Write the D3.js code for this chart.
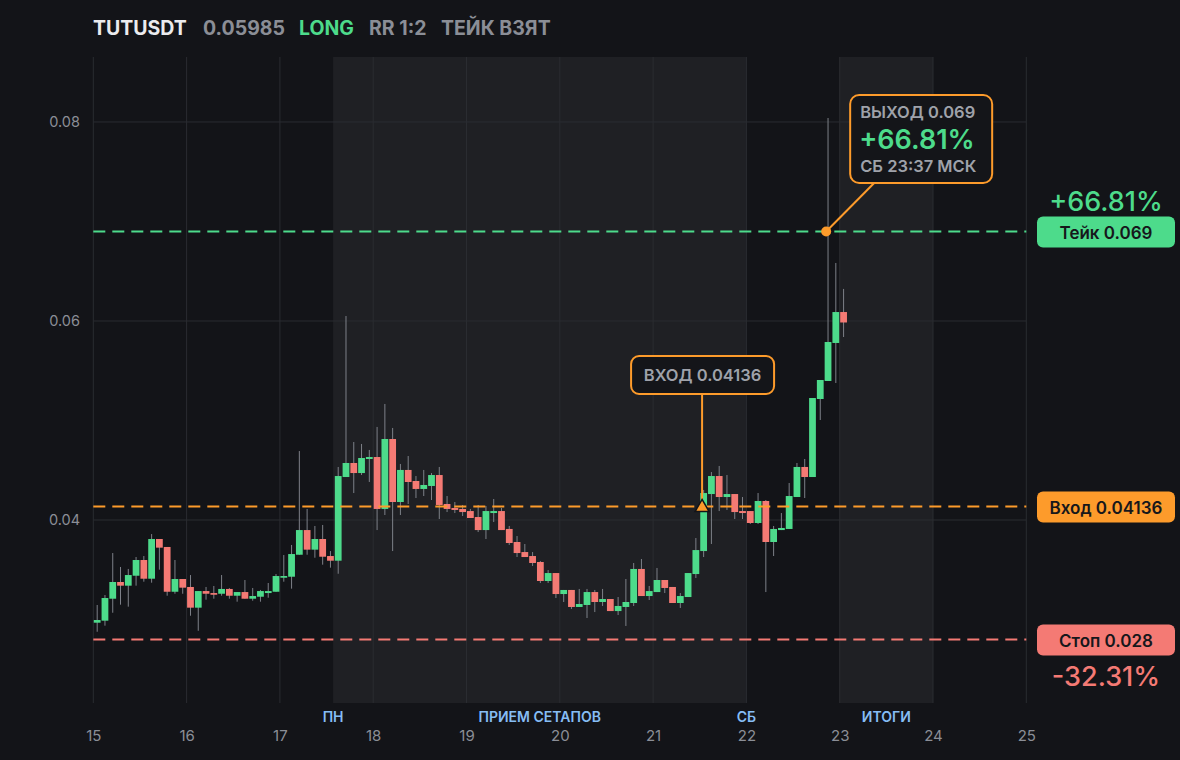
<!DOCTYPE html>
<html>
<head>
<meta charset="utf-8">
<script src="https://cdn.jsdelivr.net/npm/d3@7"></script>
<style>
  html, body { margin: 0; background: #131418; }
  svg { display: block; font-family: Inter, "Noto Sans", sans-serif; }
</style>
</head>
<body>
<svg id="chart"></svg>
<script>
// 2h candles, TUTUSDT, starting on the 15th
var opens = [0.02968, 0.02988, 0.03209, 0.03377, 0.03340, 0.03440, 0.03598, 0.03410, 0.03809, 0.03729,
  0.03279, 0.03407, 0.03327, 0.03119, 0.03286, 0.03266, 0.03259, 0.03307, 0.03239, 0.03276,
  0.03209, 0.03229, 0.03266, 0.03279, 0.03420, 0.03430, 0.03651, 0.03899, 0.03702, 0.03809,
  0.03638, 0.03591, 0.04432, 0.04573, 0.04472, 0.04613, 0.04633, 0.04111, 0.04814, 0.04181,
  0.04503, 0.04392, 0.04312, 0.04342, 0.04452, 0.04161, 0.04121, 0.04111, 0.04090, 0.04030,
  0.03899, 0.04070, 0.04090, 0.03910, 0.03779, 0.03678, 0.03638, 0.03578, 0.03387, 0.03467,
  0.03256, 0.03297, 0.03126, 0.03146, 0.03276, 0.03176, 0.03206, 0.03085, 0.03126, 0.03166,
  0.03508, 0.03236, 0.03276, 0.03397, 0.03327, 0.03166, 0.03226, 0.03457, 0.03688, 0.04261,
  0.04442, 0.04231, 0.04261, 0.04090, 0.04090, 0.03970, 0.04191, 0.03779, 0.03899, 0.03910,
  0.04231, 0.04533, 0.04432, 0.05216, 0.05397, 0.05779, 0.06090];
var highs = [0.03146, 0.03246, 0.03668, 0.03528, 0.03508, 0.03628, 0.03638, 0.03859, 0.03809, 0.03729,
  0.03598, 0.03407, 0.03447, 0.03286, 0.03327, 0.03337, 0.03447, 0.03317, 0.03276, 0.03397,
  0.03317, 0.03297, 0.03367, 0.03457, 0.03648, 0.03749, 0.04693, 0.04111, 0.03940, 0.03950,
  0.03688, 0.04533, 0.06050, 0.04784, 0.04764, 0.04704, 0.04935, 0.05166, 0.04925, 0.04563,
  0.04643, 0.04442, 0.04503, 0.04472, 0.04533, 0.04241, 0.04181, 0.04151, 0.04111, 0.04151,
  0.04141, 0.04211, 0.04121, 0.03940, 0.03839, 0.03759, 0.03678, 0.03588, 0.03497, 0.03467,
  0.03297, 0.03297, 0.03307, 0.03307, 0.03297, 0.03307, 0.03206, 0.03226, 0.03407, 0.03568,
  0.03608, 0.03337, 0.03518, 0.03397, 0.03327, 0.03266, 0.03467, 0.03819, 0.04302, 0.04482,
  0.04543, 0.04452, 0.04261, 0.04231, 0.04090, 0.04271, 0.04201, 0.03940, 0.04070, 0.04372,
  0.04573, 0.04613, 0.05226, 0.05407, 0.08040, 0.06583, 0.06322];
var lows = [0.02877, 0.02938, 0.03068, 0.03149, 0.03129, 0.03340, 0.03380, 0.03370, 0.03501, 0.03239,
  0.03259, 0.03259, 0.03038, 0.02887, 0.03199, 0.03209, 0.03239, 0.03209, 0.03179, 0.03209,
  0.03189, 0.03179, 0.03219, 0.03279, 0.03380, 0.03310, 0.03651, 0.03651, 0.03621, 0.03551,
  0.03521, 0.03460, 0.04432, 0.04271, 0.04452, 0.04382, 0.03899, 0.04050, 0.03688, 0.04050,
  0.04161, 0.04221, 0.04241, 0.04201, 0.04010, 0.04080, 0.04070, 0.04040, 0.04020, 0.03879,
  0.03809, 0.03980, 0.03899, 0.03749, 0.03628, 0.03628, 0.03538, 0.03367, 0.03367, 0.03216,
  0.03176, 0.03106, 0.03126, 0.03015, 0.03075, 0.03136, 0.03085, 0.03045, 0.02935, 0.03136,
  0.03236, 0.03196, 0.03276, 0.03266, 0.03166, 0.03116, 0.03226, 0.03417, 0.03628, 0.03759,
  0.04090, 0.04101, 0.04010, 0.04010, 0.03960, 0.03960, 0.03276, 0.03638, 0.03899, 0.03910,
  0.04231, 0.04221, 0.04432, 0.05005, 0.05397, 0.05377, 0.05839];
var closes = [0.02995, 0.03216, 0.03377, 0.03340, 0.03447, 0.03598, 0.03410, 0.03809, 0.03722, 0.03279,
  0.03407, 0.03320, 0.03119, 0.03286, 0.03259, 0.03249, 0.03307, 0.03239, 0.03276, 0.03209,
  0.03236, 0.03286, 0.03286, 0.03437, 0.03437, 0.03658, 0.03899, 0.03702, 0.03809, 0.03631,
  0.03591, 0.04442, 0.04573, 0.04472, 0.04623, 0.04633, 0.04111, 0.04814, 0.04181, 0.04503,
  0.04382, 0.04312, 0.04352, 0.04452, 0.04151, 0.04111, 0.04101, 0.04080, 0.04020, 0.03899,
  0.04090, 0.04090, 0.03899, 0.03769, 0.03668, 0.03628, 0.03568, 0.03387, 0.03467, 0.03256,
  0.03297, 0.03126, 0.03156, 0.03276, 0.03176, 0.03206, 0.03085, 0.03136, 0.03176, 0.03508,
  0.03236, 0.03286, 0.03397, 0.03317, 0.03166, 0.03236, 0.03467, 0.03698, 0.04271, 0.04442,
  0.04231, 0.04261, 0.04080, 0.04070, 0.03970, 0.04191, 0.03779, 0.03910, 0.03920, 0.04241,
  0.04533, 0.04432, 0.05226, 0.05407, 0.05789, 0.06090, 0.05985];

var startDay = 15, candlesPerDay = 12;
var dayTicks = [15, 16, 17, 18, 19, 20, 21, 22, 23, 24, 25];
var priceTicks = [0.04, 0.06, 0.08];
var shadeFrom = [17.57, 23], shadeTo = [22, 24];
var sessionNames = ["ПН", "ПРИЕМ СЕТАПОВ", "СБ", "ИТОГИ"];
var sessionAt = [17.57, 19.785, 22, 23.5];

var symbol = "TUTUSDT", lastPrice = "0.05985", side = "LONG", rr = "RR 1:2", status = "ТЕЙК ВЗЯТ";
var entryPrice = 0.04136, takePrice = 0.069, stopPrice = 0.028;
var entryTime = 21.525, exitTime = 22.855;
var takePct = "+66.81%", stopPct = "-32.31%", exitWhen = "СБ 23:37 МСК";

var W = 1180, H = 760;
var green = "#4ddb8b", red = "#f47a74", orange = "#fd9b2b", grey = "#8b8e96";

var svg = d3.select("#chart").attr("width", W).attr("height", H);
svg.append("rect").attr("width", W).attr("height", H).attr("fill", "#131418");

var x = d3.scaleLinear().domain([15, 25]).range([93.3, 1026.3]);
var y = d3.scaleLinear().domain([0.02161, 0.08653]).range([703, 57]);

// shaded sessions
svg.selectAll(".shade").data(shadeFrom).enter().append("rect")
    .attr("x", (d) => x(d))
    .attr("width", (d, i) => x(shadeTo[i]) - x(d))
    .attr("y", 57).attr("height", 646)
    .attr("fill", "#1f2024");

// grid
svg.selectAll(".vgrid").data(dayTicks).enter().append("line")
    .attr("x1", (d) => x(d)).attr("x2", (d) => x(d))
    .attr("y1", 57).attr("y2", 703)
    .attr("stroke", "#2a2c31");
svg.selectAll(".hgrid").data(priceTicks).enter().append("line")
    .attr("x1", x(15)).attr("x2", x(25))
    .attr("y1", (d) => y(d)).attr("y2", (d) => y(d))
    .attr("stroke", "#2a2c31");

// axes
var xAxis = svg.append("g").attr("transform", "translate(0,726)")
    .call(d3.axisBottom(x).tickValues(dayTicks).tickSize(0).tickPadding(0).tickFormat(d3.format("d")));
xAxis.select(".domain").remove();
xAxis.selectAll("text").attr("fill", grey).attr("font-size", 15).attr("font-family", "Inter").attr("dy", "1em");

var yAxis = svg.append("g").attr("transform", "translate(93,0)")
    .call(d3.axisLeft(y).tickValues(priceTicks).tickSize(0).tickPadding(13).tickFormat(d3.format(".2f")));
yAxis.select(".domain").remove();
yAxis.selectAll("text").attr("fill", grey).attr("font-size", 14.5).attr("font-family", "Inter");

// session labels
svg.selectAll(".sess").data(sessionNames).enter().append("text")
    .attr("x", (d, i) => x(sessionAt[i])).attr("y", 722)
    .attr("text-anchor", "middle")
    .attr("fill", "#86bdf5").attr("font-size", 14).attr("font-weight", 600)
    .text((d) => d);

// candles
var idx = d3.range(opens.length);
var tOf = (i) => startDay + (i + 0.5) / candlesPerDay;
var bw = (x(1 / candlesPerDay) - x(0)) - 1;

svg.selectAll(".wick").data(idx).enter().append("line")
    .attr("x1", (i) => x(tOf(i))).attr("x2", (i) => x(tOf(i)))
    .attr("y1", (i) => y(highs[i])).attr("y2", (i) => y(lows[i]))
    .attr("stroke", "#7d8088").attr("stroke-width", 1);

svg.selectAll(".body").data(idx).enter().append("rect")
    .attr("x", (i) => x(tOf(i)) - bw / 2)
    .attr("width", bw)
    .attr("y", (i) => y(Math.max(opens[i], closes[i])))
    .attr("height", (i) => Math.max(1.5, Math.abs(y(opens[i]) - y(closes[i]))))
    .attr("fill", (i) => closes[i] >= opens[i] ? green : red);

// level lines
var levels = [takePrice, entryPrice, stopPrice];
var levelColors = [green, orange, red];
svg.selectAll(".level").data(levels).enter().append("line")
    .attr("x1", x(15)).attr("x2", x(25))
    .attr("y1", (d) => y(d)).attr("y2", (d) => y(d))
    .attr("stroke", (d, i) => levelColors[i])
    .attr("stroke-width", 2)
    .attr("stroke-dasharray", "12,7");

// entry marker
var ex = x(entryTime), ey = y(entryPrice);
svg.append("line").attr("x1", ex).attr("x2", ex).attr("y1", 394).attr("y2", ey - 6)
    .attr("stroke", orange).attr("stroke-width", 2);
svg.append("path").attr("d", d3.symbol(d3.symbolTriangle).size(85)())
    .attr("transform", "translate(" + ex + "," + (ey + 1) + ")")
    .attr("fill", orange).attr("stroke", "#131418").attr("stroke-width", 1.5);
svg.append("rect").attr("x", ex - 71).attr("y", 356).attr("width", 143).attr("height", 38)
    .attr("rx", 8).attr("fill", "#141519").attr("stroke", orange).attr("stroke-width", 2);
svg.append("text").attr("x", ex + 0.5).attr("y", 381).attr("text-anchor", "middle")
    .attr("fill", "#9fa2aa").attr("font-size", 16.5).attr("font-weight", 600)
    .text("ВХОД " + entryPrice);

// exit marker
var xx = x(exitTime), xy = y(takePrice);
svg.append("line").attr("x1", xx).attr("y1", xy).attr("x2", xx + 48).attr("y2", 183)
    .attr("stroke", orange).attr("stroke-width", 2);
svg.append("rect").attr("x", xx + 24).attr("y", 95).attr("width", 142).attr("height", 88)
    .attr("rx", 9).attr("fill", "#141519").attr("stroke", orange).attr("stroke-width", 2);
svg.append("circle").attr("cx", xx).attr("cy", xy).attr("r", 5).attr("fill", orange);
svg.append("text").attr("x", xx + 34).attr("y", 118)
    .attr("fill", "#9fa2aa").attr("font-size", 16.5).attr("font-weight", 600)
    .text("ВЫХОД " + takePrice);
svg.append("text").attr("x", xx + 33).attr("y", 149)
    .attr("fill", green).attr("font-size", 27).attr("font-weight", 600)
    .text(takePct);
svg.append("text").attr("x", xx + 34).attr("y", 172)
    .attr("fill", "#9fa2aa").attr("font-size", 16.5).attr("font-weight", 600)
    .text(exitWhen);

// right side tags
var tagText = ["Тейк " + takePrice, "Вход " + entryPrice, "Стоп " + stopPrice];
svg.selectAll(".tag").data(levels).enter().append("rect")
    .attr("x", 1037).attr("width", 138)
    .attr("y", (d) => y(d) - 15).attr("height", 31)
    .attr("rx", 6)
    .attr("fill", (d, i) => levelColors[i]);
svg.selectAll(".tagText").data(levels).enter().append("text")
    .attr("x", 1106).attr("y", (d) => y(d) + 8)
    .attr("text-anchor", "middle")
    .attr("fill", "#16171b").attr("font-size", 17).attr("font-weight", 600)
    .text((d, i) => tagText[i]);
svg.append("text").attr("x", 1106).attr("y", y(takePrice) - 20).attr("text-anchor", "middle")
    .attr("fill", green).attr("font-size", 27).attr("font-weight", 500).text(takePct);
svg.append("text").attr("x", 1106).attr("y", y(stopPrice) + 47).attr("text-anchor", "middle")
    .attr("fill", red).attr("font-size", 27).attr("font-weight", 500).text(stopPct);

// title
var titleParts = [symbol, lastPrice, side, rr, status];
var titleX = [93, 203, 299, 369, 441];
var titleFill = ["#ebebee", grey, green, grey, grey];
svg.selectAll(".title").data(titleParts).enter().append("text")
    .attr("x", (d, i) => titleX[i]).attr("y", 35)
    .attr("fill", (d, i) => titleFill[i])
    .attr("font-size", 19.5).attr("font-weight", 700)
    .text((d) => d);
</script>
</body>
</html>
